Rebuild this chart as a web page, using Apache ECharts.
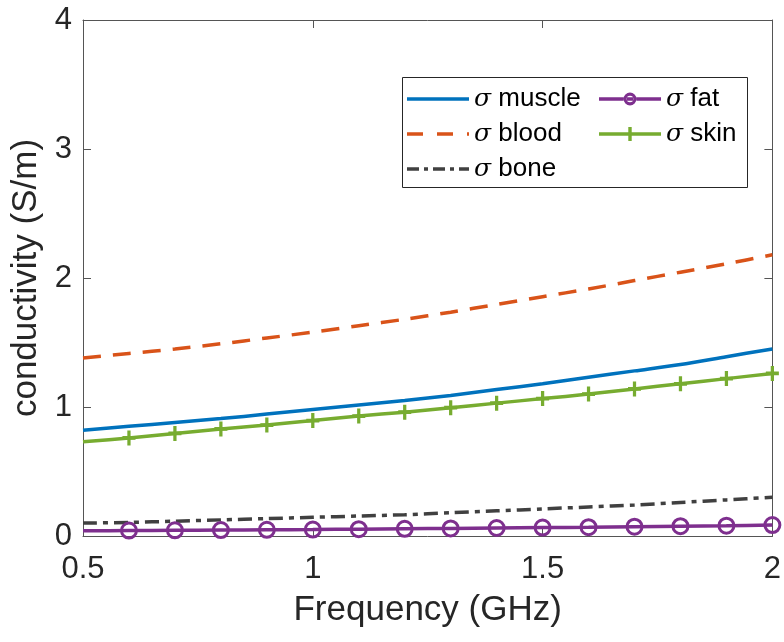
<!DOCTYPE html>
<html><head><meta charset="utf-8">
<script src="https://cdn.jsdelivr.net/npm/echarts@6/dist/echarts.min.js"></script>
<style>html,body{margin:0;padding:0;background:#fff}#c{width:784px;height:642px}</style>
</head><body><div id="c"></div>
<script>
const freq = [0.5,0.6,0.7,0.8,0.9,1.0,1.1,1.2,1.3,1.4,1.5,1.6,1.7,1.8,1.9,2.0];
const muscle = [0.82,0.85,0.88,0.91,0.945,0.98,1.015,1.05,1.09,1.135,1.18,1.23,1.28,1.33,1.39,1.45];
const blood = [1.38,1.415,1.45,1.49,1.535,1.58,1.63,1.68,1.735,1.795,1.855,1.915,1.98,2.045,2.11,2.18];
const bone = [0.10,0.105,0.115,0.125,0.135,0.145,0.155,0.165,0.18,0.195,0.21,0.225,0.24,0.26,0.28,0.30];
const fat = [0.04,0.042,0.044,0.046,0.048,0.05,0.053,0.056,0.059,0.062,0.065,0.068,0.072,0.076,0.08,0.085];
const skin = [0.73,0.76,0.795,0.83,0.86,0.895,0.93,0.96,0.995,1.03,1.065,1.10,1.14,1.18,1.22,1.26];
const xTicks = [0.5,1,1.5,2];
const yTicks = [0,1,2,3,4];

const pair = arr => freq.map((f,i)=>[f,arr[i]]);
const FONT = 'Liberation Sans, Arial, sans-serif';
const AX = '#555';
const TXT = '#262626';
const C = {muscle:'#0072BD', blood:'#D95319', bone:'#404040', fat:'#7E2F8E', skin:'#77AC30'};
const plus = 'path://M4.5,0h3v4.5h4.5v3h-4.5v4.5h-3v-4.5h-4.5v-3h4.5z';
const markFn = s => (v,p) => p.dataIndex===0 ? 'none' : s;

// legend icons (62 x 14 box)
const BOX = 'M0,0L0,0M62,14L62,14';
const ICON = {
  muscle: 'path://' + BOX + 'M0,5.3h62v3.4H0z',
  blood: 'path://' + BOX + 'M0,5.3h16v3.4H0zM30,5.3h16v3.4H30zM60,5.3h2v3.4H60z',
  bone: 'path://' + BOX + 'M0,5.3h12v3.4H0zM17,5.3h4v3.4H17zM26,5.3h12v3.4H26zM43,5.3h4v3.4H43zM52,5.3h10v3.4H52z',
  fat: 'path://' + BOX + 'M0,5.3h24.5v3.4H0zM37.5,5.3h24.5v3.4H37.5zM28,5.3h6v3.4H28z' +
       'M24.5,7A6.5,6.5 0 1,1 37.5,7A6.5,6.5 0 1,1 24.5,7Z' +
       'M27.7,7A3.3,3.3 0 1,0 34.3,7A3.3,3.3 0 1,0 27.7,7Z',
  skin: 'path://' + BOX + 'M0,5.3h62v3.4H0zM29.3,0h3.4v14h-3.4z'
};
const legItem = n => ({name: n, icon: ICON[n], itemStyle: {color: C[n], borderWidth: 0}});

const chart = echarts.init(document.getElementById('c'));
const legendText = {fontFamily: FONT, fontSize: 26, color: '#000', lineHeight: 30,
  rich: {s: {fontFamily: 'DejaVu Serif, serif', fontStyle: 'italic', fontSize: 25, color:'#000', lineHeight: 30}}};
chart.setOption({
  animation: false,
  grid: {left: 83, right: 9, top: 20, bottom: 106, containLabel: false},
  xAxis: [{
    type: 'value', min: 0.5, max: 2, interval: 0.5,
    name: 'Frequency (GHz)', nameLocation: 'middle', nameGap: 57,
    nameTextStyle: {fontFamily: FONT, fontSize: 35, color: TXT},
    axisLine: {show: true, lineStyle: {color: AX, width: 1}},
    axisTick: {inside: true, length: 8, lineStyle: {color: AX}},
    axisLabel: {fontFamily: FONT, fontSize: 31, color: TXT, margin: 18,
      formatter: v => String(v)},
    splitLine: {show: false}
  },{
    type: 'value', min: 0.5, max: 2, interval: 0.5, position: 'top',
    axisLine: {show: true, onZero: false, lineStyle: {color: AX, width: 1}},
    axisTick: {inside: true, length: 8, lineStyle: {color: AX}},
    axisLabel: {show: false}, splitLine: {show: false}
  }],
  yAxis: [{
    type: 'value', min: 0, max: 4, interval: 1,
    name: 'conductivity (S/m)', nameLocation: 'middle', nameGap: 38,
    nameTextStyle: {fontFamily: FONT, fontSize: 35, color: TXT},
    axisLine: {show: true, lineStyle: {color: AX, width: 1}},
    axisTick: {inside: true, length: 8, lineStyle: {color: AX}},
    axisLabel: {fontFamily: FONT, fontSize: 31, color: TXT, margin: 11},
    splitLine: {show: false}
  },{
    type: 'value', min: 0, max: 4, interval: 1, position: 'right',
    axisLine: {show: true, onZero: false, lineStyle: {color: AX, width: 1}},
    axisTick: {inside: true, length: 8, lineStyle: {color: AX}},
    axisLabel: {show: false}, splitLine: {show: false}
  }],
  legend: [{
    data: ['muscle','blood','bone'].map(legItem), orient: 'vertical', left: 407, top: 84,
    itemWidth: 62, itemHeight: 14, itemGap: 5, padding: 0, symbolKeepAspect: false,
    formatter: n => '{s|σ} ' + n, textStyle: legendText
  },{
    data: ['fat','skin'].map(legItem), orient: 'vertical', left: 599, top: 84,
    itemWidth: 62, itemHeight: 14, itemGap: 5, padding: 0, symbolKeepAspect: false,
    formatter: n => '{s|σ} ' + n, textStyle: legendText
  }],
  graphic: [{type: 'rect', shape: {x: 402.5, y: 77.5, width: 345, height: 110},
    style: {fill: 'none', stroke: '#262626', lineWidth: 1}, z: 100}],
  series: [
    {name: 'muscle', type: 'line', data: pair(muscle), showSymbol: false, symbol: 'none', smooth: 0.3,
     lineStyle: {color: C.muscle, width: 3.5}, itemStyle: {color: C.muscle}},
    {name: 'blood', type: 'line', data: pair(blood), showSymbol: false, symbol: 'none', smooth: 0.3,
     lineStyle: {color: C.blood, width: 3.5, type: [18, 12]}, itemStyle: {color: C.blood}},
    {name: 'bone', type: 'line', data: pair(bone), showSymbol: false, symbol: 'none', smooth: 0.3,
     lineStyle: {color: C.bone, width: 3.5, type: [14, 6, 5, 6]}, itemStyle: {color: C.bone}},
    {name: 'fat', type: 'line', data: pair(fat), symbol: markFn('circle'), symbolSize: 15, showAllSymbol: true, smooth: 0.3,
     lineStyle: {color: C.fat, width: 3.5},
     itemStyle: {color: 'rgba(255,255,255,0)', borderColor: C.fat, borderWidth: 3}},
    {name: 'skin', type: 'line', data: pair(skin), symbol: markFn(plus), symbolSize: [13, 15], showAllSymbol: true, smooth: 0.3,
     lineStyle: {color: C.skin, width: 3.5},
     itemStyle: {color: C.skin}}
  ]
});
</script></body></html>
